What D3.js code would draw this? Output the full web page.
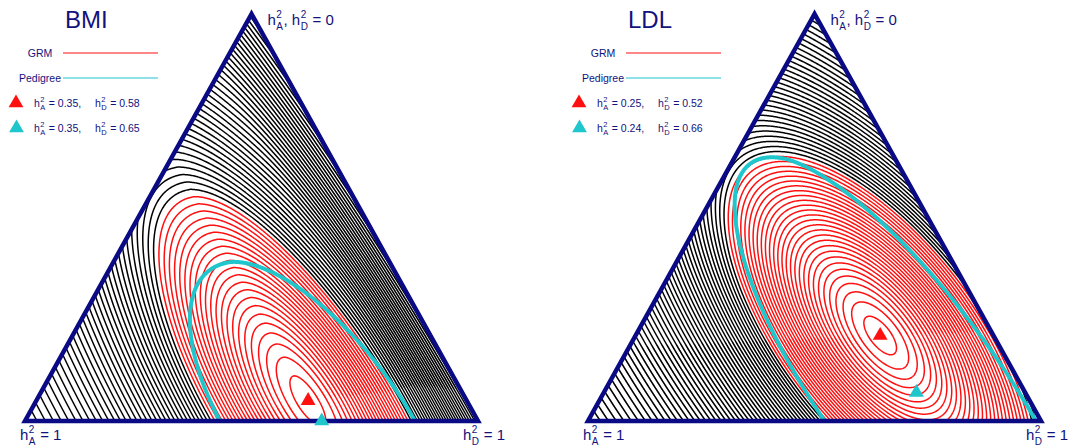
<!DOCTYPE html>
<html><head><meta charset="utf-8">
<script src="https://cdn.jsdelivr.net/npm/d3@7"></script>
<style>
body{margin:0;background:#fff}
text{font-family:'Liberation Sans',Arial,Helvetica,sans-serif;fill:#12127e}
</style></head>
<body>
<svg id="chart" width="1079" height="448"></svg>
<script>
// ---------------- data ----------------
const traits = ["BMI", "LDL"];
// estimates printed in the legends
const grmLabelA = ["0.35", "0.25"], grmLabelD = ["0.58", "0.52"];
const pedLabelA = ["0.35", "0.24"], pedLabelD = ["0.65", "0.66"];
// peak positions (h2A, h2D) of the likelihood surfaces
const grmPeakA = [0.35, 0.25], grmPeakD = [0.60, 0.54];
const pedPeakA = [0.345, 0.24], pedPeakD = [0.655, 0.69];
// spread of the GRM surface (h2A below / above the peak, h2D), correlation, steepening towards h2A = 0
const grmSdAlow = [0.20, 0.255], grmSdAhigh = [0.235, 0.256], grmSdD = [0.548, 0.515], grmRho = [-0.365, -0.50];
const grmOuterLow = [0.75, 0.5];
// spread of the pedigree surface
const pedSdAlow = [0.206, 0.229], pedSdAhigh = [0.225, 0.245], pedSdD = [0.442, 0.655], pedRho = [-0.466, -0.483];
// number of contour levels inside (red) and outside (black) the region
const redLevelCount = [22, 28], blackLevelCount = [70, 70];
const levelScale = [1.0, 1.0], levelPower = [-0.3, -0.3];
const vertexTop = [{t:"h"},{sup:"2",sub:"A"},{t:", h"},{sup:"2",sub:"D"},{t:" = 0"}];
const vertexLeft = [{t:"h"},{sup:"2",sub:"A"},{t:" = 1"}];
const vertexRight = [{t:"h"},{sup:"2",sub:"D"},{t:" = 1"}];

// ---------------- drawing ----------------
const svg = d3.select("#chart");
const NAVY = "#0a0a85", RED = "#ff1010", CYAN = "#1fc6cc";

function richText(g, x, y, segs, size, subSize) {
  let cx = x;
  segs.forEach(s => {
    if (s.t !== undefined) {
      const t = g.append("text").attr("x", cx).attr("y", y).attr("font-size", size)
        .style("white-space", "pre").text(s.t);
      cx += t.node().getComputedTextLength();
    } else {
      const a = g.append("text").attr("x", cx + 0.5).attr("y", y - size * 0.47).attr("font-size", subSize).text(s.sup);
      const b = g.append("text").attr("x", cx + 0.5).attr("y", y + size * 0.33).attr("font-size", subSize).text(s.sub);
      cx += Math.max(a.node().getComputedTextLength(), b.node().getComputedTextLength()) + 1;
    }
  });
}

function surface(cA, cD, sLow, sHigh, sD, rho, steep, k, pw) {
  return (hA, hD) => {
    const dA = hA - cA, dD = hD - cD;
    let x;
    if (dA < 0) {
      const u = -dA / sLow;
      x = -(u + (u > 1 ? steep * (u - 1) * (u - 1) : 0));
    } else x = dA / sHigh;
    const y = dD / sD;
    const Q = (x * x - 2 * rho * x * y + y * y) / (1 - rho * rho);
    return (Math.pow(1 + Q / k, pw) - 1) / pw;
  };
}

traits.forEach((name, p) => {
  const off = p * 563;
  const g = svg.append("g");
  const xS = d3.scaleLinear().domain([-1, 1]).range([25 + off, 478 + off]); // hD - hA
  const yS = d3.scaleLinear().domain([0, 1]).range([14, 421]);               // hA + hD
  const pos = (a, d) => [xS(d - a), yS(a + d)];
  const apex = pos(0, 0), bl = pos(1, 0), br = pos(0, 1);

  const clipId = "clip" + p;
  svg.append("clipPath").attr("id", clipId).append("path")
    .attr("d", "M" + apex + "L" + bl + "L" + br + "Z");

  const k = levelScale[p], pw = levelPower[p];
  const fG = surface(grmPeakA[p], grmPeakD[p], grmSdAlow[p], grmSdAhigh[p], grmSdD[p], grmRho[p], grmOuterLow[p], k, pw);
  const fP = surface(pedPeakA[p], pedPeakD[p], pedSdAlow[p], pedSdAhigh[p], pedSdD[p], pedRho[p], 0, k, pw);
  const x0 = 20 + off, y0 = 9, nx = 464, ny = 418;
  const vG = new Float64Array(nx * ny), vP = new Float64Array(nx * ny);
  for (let j = 0; j < ny; j++) for (let i = 0; i < nx; i++) {
    const s = yS.invert(y0 + j + 0.5), t = xS.invert(x0 + i + 0.5);
    const a = (s - t) / 2, d = (s + t) / 2;
    vG[j * nx + i] = fG(a, d);
    vP[j * nx + i] = fP(a, d);
  }
  const edge = (Math.pow(1 + 1 / k, pw) - 1) / pw;
  const step = edge / redLevelCount[p];
  const redTh = d3.range(1, redLevelCount[p] + 1).map(i => i * step - step * 0.5);
  const blackTh = d3.range(1, blackLevelCount[p] + 1).map(i => edge + i * step - step * 0.5);
  const path = d3.geoPath(d3.geoIdentity().translate([x0, y0]));
  const cg = g.append("g").attr("clip-path", `url(#${clipId})`).attr("fill", "none");
  cg.selectAll("path.b").data(d3.contours().size([nx, ny]).thresholds(blackTh)(vG))
    .join("path").attr("d", path).attr("stroke", "#000").attr("stroke-width", 1.5);
  cg.selectAll("path.r").data(d3.contours().size([nx, ny]).thresholds(redTh)(vG))
    .join("path").attr("d", path).attr("stroke", RED).attr("stroke-width", 1.5);
  cg.selectAll("path.c").data(d3.contours().size([nx, ny]).thresholds([edge])(vP))
    .join("path").attr("d", path).attr("stroke", CYAN).attr("stroke-width", 4);

  g.append("path").attr("d", "M" + apex + "L" + bl + "L" + br + "Z")
    .attr("fill", "none").attr("stroke", NAVY).attr("stroke-width", 4.5).attr("stroke-linejoin", "miter");

  const tri = d3.symbol().type(d3.symbolTriangle).size(95);
  g.append("path").attr("d", tri()).attr("fill", RED)
    .attr("transform", `translate(${pos(grmPeakA[p], grmPeakD[p])})`);
  g.append("path").attr("d", tri()).attr("fill", CYAN)
    .attr("transform", `translate(${pos(pedPeakA[p], pedPeakD[p])})`);

  // title and vertex labels
  g.append("text").attr("x", 65 + off).attr("y", 28).attr("font-size", 24).text(name);
  richText(g, apex[0] + 16, 25, vertexTop, 15, 10);
  richText(g, 20 + off, 440, vertexLeft, 15, 10);
  richText(g, 463 + off, 440, vertexRight, 15, 10);

  // legend
  g.append("text").attr("x", 40 + off).attr("y", 57).attr("font-size", 10.5).attr("text-anchor", "middle").text("GRM");
  g.append("text").attr("x", 40 + off).attr("y", 81.5).attr("font-size", 10.5).attr("text-anchor", "middle").text("Pedigree");
  g.append("line").attr("x1", 63 + off).attr("x2", 158 + off).attr("y1", 53).attr("y2", 53).attr("stroke", RED).attr("stroke-width", 1.2);
  g.append("line").attr("x1", 63 + off).attr("x2", 158 + off).attr("y1", 78).attr("y2", 78).attr("stroke", CYAN).attr("stroke-width", 1.2);
  g.append("path").attr("d", tri()).attr("fill", RED).attr("transform", `translate(${16 + off},103)`);
  g.append("path").attr("d", tri()).attr("fill", CYAN).attr("transform", `translate(${16.5 + off},128)`);
  richText(g, 34 + off, 107, [{t:"h"},{sup:"2",sub:"A"},{t:" = " + grmLabelA[p] + ","}], 10.5, 7.5);
  richText(g, 95 + off, 107, [{t:"h"},{sup:"2",sub:"D"},{t:" = " + grmLabelD[p]}], 10.5, 7.5);
  richText(g, 34 + off, 132, [{t:"h"},{sup:"2",sub:"A"},{t:" = " + pedLabelA[p] + ","}], 10.5, 7.5);
  richText(g, 95 + off, 132, [{t:"h"},{sup:"2",sub:"D"},{t:" = " + pedLabelD[p]}], 10.5, 7.5);
});
</script>
</body></html>
